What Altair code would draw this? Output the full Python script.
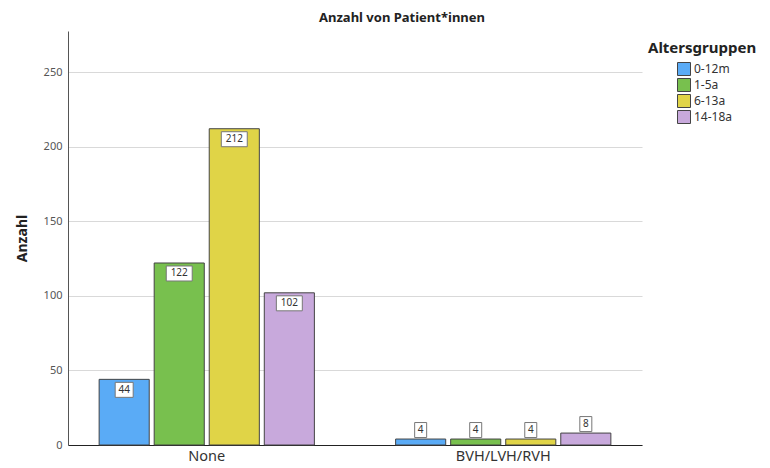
import altair as alt
import pandas as pd

categories = ["None", "BVH/LVH/RVH"]
groups = ["0-12m", "1-5a", "6-13a", "14-18a"]
values_none = [44, 122, 212, 102]
values_bvh = [4, 4, 4, 8]
colors = ["#5aabf6", "#78c04e", "#e0d447", "#c8a9dc"]

rows = []
for cat, vals in zip(categories, [values_none, values_bvh]):
    for g, v in zip(groups, vals):
        rows.append({"cat": cat, "group": g, "value": v})
df = pd.DataFrame(rows)

FONT = "Noto Sans"

x_enc = alt.X("cat:N", sort=categories, title=None,
              scale=alt.Scale(paddingInner=0.274, paddingOuter=0.105),
              axis=alt.Axis(labelAngle=0, labelFontSize=14.5, labelColor="#333",
                            domainColor="#222", domainWidth=1, ticks=False,
                            labelPadding=4, labelFont=FONT))
xo_enc = alt.XOffset("group:N", sort=groups,
                     scale=alt.Scale(paddingInner=0.09, paddingOuter=0))
y_enc = alt.Y("value:Q", title="Anzahl",
              scale=alt.Scale(domain=[0, 277.5], nice=False, zero=True),
              axis=alt.Axis(values=[0, 50, 100, 150, 200, 250], ticks=False,
                            labelFontSize=11, labelColor="#555", labelPadding=6,
                            domainColor="#555", gridColor="#d9d9d9",
                            titleFontSize=14, titleFontWeight="bold",
                            titleColor="#222", titlePadding=14, labelFont=FONT,
                            titleFont=FONT))

base = alt.Chart(df)

bars = base.mark_bar(stroke="#444", strokeWidth=1).encode(
    x=x_enc, xOffset=xo_enc, y=y_enc,
    color=alt.Color("group:N", sort=groups, title="Altersgruppen",
                    scale=alt.Scale(domain=groups, range=colors),
                    legend=alt.Legend(orient="none", legendX=580, legendY=10,
                                      titleFontSize=15, titleFontWeight="bold",
                                      titleColor="#222", titleFont=FONT,
                                      labelFont=FONT, labelFontSize=12,
                                      labelColor="#333", symbolType="square",
                                      symbolSize=169, symbolStrokeColor="#444",
                                      symbolStrokeWidth=1, symbolOffset=29,
                                      labelOffset=3, rowPadding=-3,
                                      titlePadding=6)),
)

paths = {
    1: "M-0.8,-1L0.8,-1L0.8,1L-0.8,1Z",
    2: "M-1.2,-1L1.2,-1L1.2,1L-1.2,1Z",
    3: "M-1.73,-1L1.73,-1L1.73,1L-1.73,1Z",
}

def label_layers(cond, off):
    b = base.transform_filter(cond).transform_calculate(
        ln="length(toString(datum.value))"
    )
    box = b.mark_point(filled=True, fill="white", stroke="#777", strokeWidth=1,
                       opacity=1, size=225, yOffset=off).encode(
        x=x_enc, xOffset=xo_enc, y=y_enc,
        shape=alt.Shape("ln:O", scale=alt.Scale(domain=[1, 2, 3],
                                                range=[paths[1], paths[2], paths[3]]),
                        legend=None),
    )
    txt = b.mark_text(fontSize=10, color="#333", font=FONT, yOffset=off,
                      baseline="middle").encode(
        x=x_enc, xOffset=xo_enc, y=y_enc, text="value:Q"
    )
    return box + txt

inside = label_layers("datum.value >= 20", 10.5)
above = label_layers("datum.value < 20", -9)

chart = alt.layer(bars, inside, above).properties(
    width=574, height=414,
    title=alt.TitleParams("Anzahl von Patient*innen", fontSize=13,
                          fontWeight="bold", color="#222", font=FONT,
                          anchor="middle", frame="group", dx=47, offset=6),
    autosize=alt.AutoSizeParams(type="none"),
    padding={"left": 60, "top": 23, "right": 120, "bottom": 23},
).configure_view(stroke=None)

chart.save("out.html", embed_options={"renderer": "svg", "actions": False})
